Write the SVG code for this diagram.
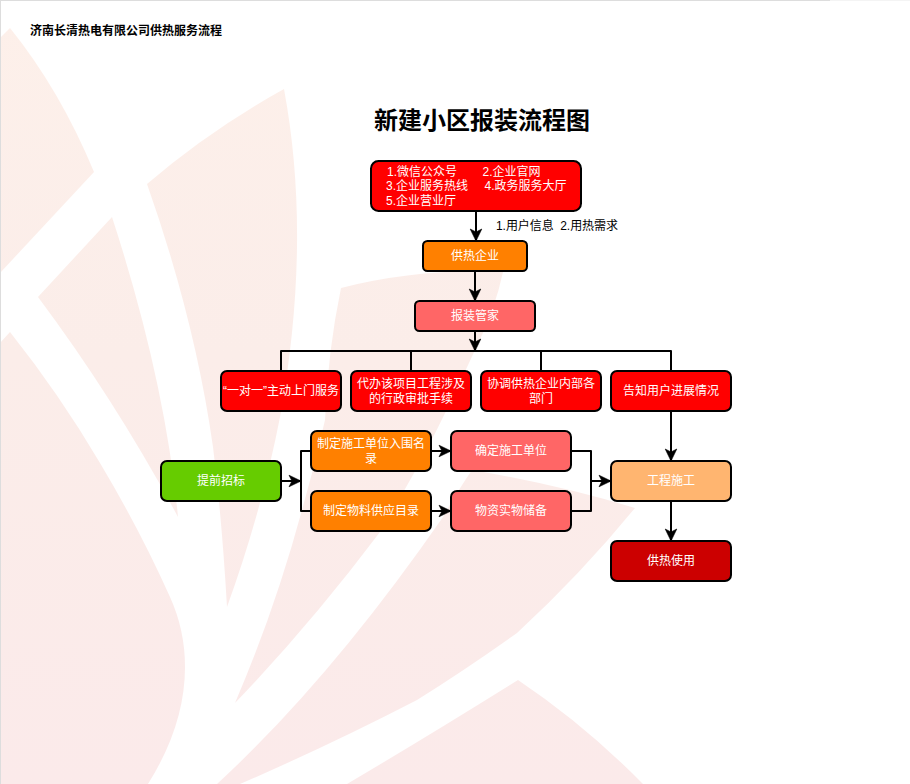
<svg xmlns="http://www.w3.org/2000/svg" width="910" height="784" viewBox="0 0 910 784">
<style>
text{font-family:"Liberation Sans","Noto Sans CJK SC",sans-serif;font-size:12px}
.n rect{stroke:#000;stroke-width:2}
.n text{fill:#fff;text-anchor:middle}
.c{fill:none;stroke:#000;stroke-width:2;stroke-linejoin:round}
</style>
<defs>
<linearGradient id="wm" gradientUnits="userSpaceOnUse" x1="0" y1="0" x2="0" y2="784">
<stop offset="0" stop-color="#fdf0ea"/><stop offset="0.45" stop-color="#fbede9"/><stop offset="1" stop-color="#fbeaea"/>
</linearGradient>
<marker id="a" markerUnits="userSpaceOnUse" markerWidth="14" markerHeight="14" refX="12" refY="6" orient="auto" overflow="visible">
<path d="M0 0.2L12 6L0 11.8L3 6Z" fill="#000" stroke="#000" stroke-width="0.6"/>
</marker>
</defs>
<rect width="910" height="784" fill="#fff"/>
<g id="watermark" fill="url(#wm)">
<path d="M0 38L10 28Q60 90 94 172L0 273Z"/>
<path d="M147 184Q210 130 284 89Q312 240 280 417Q262 510 227 607Q222 520 213 447Q195 320 147 184Z"/>
<path d="M112 217L38 297Q115 400 178 517Q165 380 112 217Z"/>
<path d="M0 343L10 332Q60 395 100 463Q140 530 170 597Q185 630 185 667Q185 725 148 784L0 784Z"/>
<path d="M341 288Q420 268 503 272Q495 310 475 350Q430 450 380 532Q310 625 235 703Q275 610 302 510Q315 465 325 420Q328 350 341 288Z"/>
<path d="M472 470Q560 485 635 508Q580 575 517 633Q465 670 417 700Q330 745 240 784L217 784Q330 680 443 517Q455 495 472 470Z"/>
<path d="M518 680Q585 725 643 784L347 784Q430 735 518 680Z"/>
</g>
<path d="M0 0.5H830" stroke="#ddd" stroke-width="1"/>
<path d="M830 0.5H910" stroke="#f4f4f4" stroke-width="1"/>
<path d="M0.5 0V784" stroke="#ddd" stroke-width="1"/>
<text id="header" x="30" y="35" font-weight="bold" fill="#000">济南长清热电有限公司供热服务流程</text>
<text id="title" x="482" y="129" text-anchor="middle" font-weight="bold" fill="#000" style="font-family:'Liberation Serif','Noto Sans CJK SC',serif;font-size:24px">新建小区报装流程图</text>
<g id="connectors" class="c">
<path class="c" d="M476 211V241" marker-end="url(#a)"/>
<path class="c" d="M475 271V301" marker-end="url(#a)"/>
<path class="c" d="M475 331V351" marker-end="url(#a)"/>
<path class="c" d="M281 371V351H671V371M411 351V371M541 351V371"/>
<path class="c" d="M671 411V461" marker-end="url(#a)"/>
<path class="c" d="M671 501V541" marker-end="url(#a)"/>
<path class="c" d="M281 481H301" marker-end="url(#a)"/>
<path class="c" d="M311 451H301V511H311"/>
<path class="c" d="M431 451H451" marker-end="url(#a)"/>
<path class="c" d="M431 511H451" marker-end="url(#a)"/>
<path class="c" d="M571 451H591V511H571"/>
<path class="c" d="M591 481H611" marker-end="url(#a)"/>
</g>
<text id="edge-label" x="496" y="230" fill="#000" xml:space="preserve" textLength="122">1.用户信息  2.用热需求</text>
<g id="source" class="n"><rect x="371" y="161" width="210" height="50" rx="7.5" fill="#f00"/>
<text x="387" y="176" style="text-anchor:start">1.微信公众号</text><text x="482.5" y="176" style="text-anchor:start">2.企业官网</text>
<text x="386" y="190" style="text-anchor:start">3.企业服务热线</text><text x="484.5" y="190" style="text-anchor:start">4.政务服务大厅</text>
<text x="386" y="205" style="text-anchor:start">5.企业营业厅</text></g>
<g id="company" class="n"><rect x="423" y="241" width="104" height="30" rx="4.5" fill="#ff8000"/><text x="475" y="260">供热企业</text></g>
<g id="steward" class="n"><rect x="415" y="301" width="120" height="30" rx="4.5" fill="#f66"/><text x="475" y="320">报装管家</text></g>
<g id="service1" class="n"><rect x="221" y="371" width="120" height="40" rx="6" fill="#f00"/><text x="281" y="395">“一对一”主动上门服务</text></g>
<g id="service2" class="n"><rect x="351" y="371" width="120" height="40" rx="6" fill="#f00"/><text x="411" y="388">代办该项目工程涉及</text><text x="411" y="403">的行政审批手续</text></g>
<g id="service3" class="n"><rect x="481" y="371" width="120" height="40" rx="6" fill="#f00"/><text x="541" y="388">协调供热企业内部各</text><text x="541" y="403">部门</text></g>
<g id="service4" class="n"><rect x="611" y="371" width="120" height="40" rx="6" fill="#f00"/><text x="671" y="395">告知用户进展情况</text></g>
<g id="bidding" class="n"><rect x="161" y="461" width="120" height="40" rx="6" fill="#6c0"/><text x="221" y="485">提前招标</text></g>
<g id="shortlist" class="n"><rect x="311" y="431" width="120" height="40" rx="6" fill="#ff8000"/><text x="371" y="448">制定施工单位入围名</text><text x="371" y="463">录</text></g>
<g id="catalog" class="n"><rect x="311" y="491" width="120" height="40" rx="6" fill="#ff8000"/><text x="371" y="515">制定物料供应目录</text></g>
<g id="contractor" class="n"><rect x="451" y="431" width="120" height="40" rx="6" fill="#f66"/><text x="511" y="455">确定施工单位</text></g>
<g id="materials" class="n"><rect x="451" y="491" width="120" height="40" rx="6" fill="#f66"/><text x="511" y="515">物资实物储备</text></g>
<g id="construction" class="n"><rect x="611" y="461" width="120" height="40" rx="6" fill="#ffb570"/><text x="671" y="485">工程施工</text></g>
<g id="use" class="n"><rect x="611" y="541" width="120" height="40" rx="6" fill="#c00"/><text x="671" y="565">供热使用</text></g>
</svg>
